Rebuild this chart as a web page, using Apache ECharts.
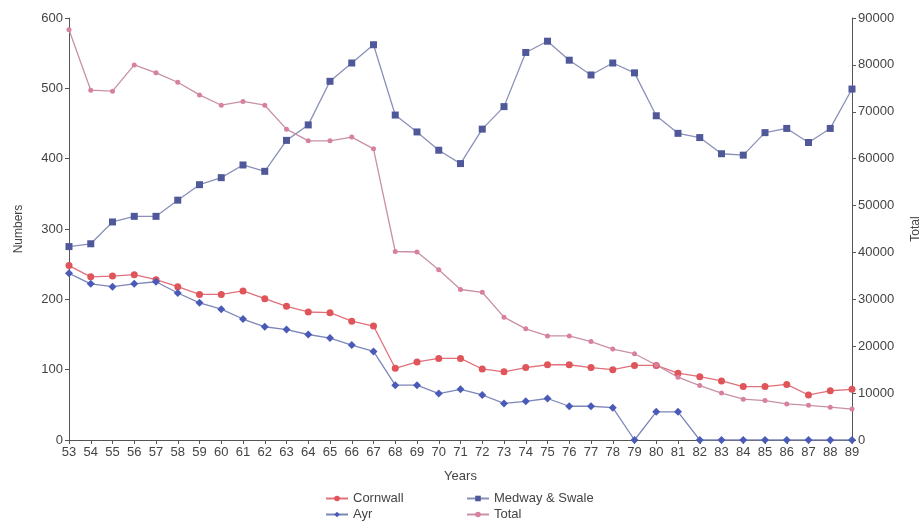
<!DOCTYPE html>
<html><head><meta charset="utf-8">
<script src="https://cdn.jsdelivr.net/npm/echarts@6/dist/echarts.min.js"></script>
<style>html,body{margin:0;padding:0;background:#fff}#c{width:919px;height:525px}</style>
</head><body><div id="c"></div>
<script>
const years = ['53','54','55','56','57','58','59','60','61','62','63','64','65','66','67','68','69','70','71','72','73','74','75','76','77','78','79','80','81','82','83','84','85','86','87','88','89'];
const cornwall = [248,232,233,235,228,218,207,207,212,201,190,182,181,169,162,102,111,116,116,101,97,103,107,107,103,100,106,106,95,90,84,76,76,79,64,70,72];
const medway = [275,279,310,318,318,341,363,373,391,382,426,448,510,536,562,462,438,412,393,442,474,551,567,540,519,536,522,461,436,430,407,405,437,443,423,443,499];
const ayr = [237,222,218,222,225,209,195,186,172,161,157,150,145,135,126,78,78,66,72,64,52,55,59,48,48,46,0,40,40,0,0,0,0,0,0,0,0];
const total = [87500,74600,74400,80000,78300,76300,73600,71400,72200,71400,66300,63800,63800,64600,62100,40200,40100,36300,32100,31500,26200,23700,22200,22200,21000,19400,18400,16000,13400,11600,10000,8700,8400,7700,7400,7000,6600];

const chart = echarts.init(document.getElementById('c'));
const txt = {color:'#444', fontFamily:'Liberation Sans, Arial, sans-serif', fontSize:12};
const legTxt = Object.assign({},txt,{fontSize:13});
const axisLine = {show:true, lineStyle:{color:'#555', width:1}};
function leg(name, left, top){
  return {data:[name], orient:'horizontal', left:left, top:top, itemGap:0, itemWidth:22, itemHeight:7, padding:0, textStyle:legTxt};
}
chart.setOption({
  animation:false,
  backgroundColor:'#fff',
  grid:{left:69, right:67, top:18, bottom:85, containLabel:false, outerBoundsMode:'none'},
  legend:[
    leg('Cornwall', 325, 492),
    leg('Ayr', 325, 508),
    leg('Medway & Swale', 466, 492),
    leg('Total', 466, 508)
  ],
  xAxis:{type:'category', data:years, boundaryGap:false, name:'Years', nameLocation:'middle', nameGap:30,
    nameTextStyle:legTxt,
    axisLine:axisLine, axisTick:{show:true, alignWithLabel:true, length:4, lineStyle:{color:'#555'}},
    axisLabel:Object.assign({},txt,{fontSize:13, margin:6, interval:0}), splitLine:{show:false}},
  yAxis:[
    {type:'value', min:0, max:600, interval:100, name:'Numbers', nameLocation:'middle', nameGap:44, nameRotate:90,
     nameTextStyle:txt, axisLine:axisLine, axisTick:{show:true, length:4, lineStyle:{color:'#555'}},
     axisLabel:Object.assign({},txt,{fontSize:13, margin:6, formatter:v=>String(v)}), splitLine:{show:false}},
    {type:'value', min:0, max:90000, interval:10000, name:'Total', nameLocation:'middle', nameGap:58, nameRotate:90,
     nameTextStyle:txt, position:'right', axisLine:axisLine, axisTick:{show:true, length:4, lineStyle:{color:'#555'}},
     axisLabel:Object.assign({},txt,{fontSize:13, margin:6, formatter:v=>String(v)}), splitLine:{show:false}}
  ],
  series:[
    {name:'Cornwall', type:'line', yAxisIndex:0, data:cornwall, symbol:'circle', symbolSize:7,
     itemStyle:{color:'#e0555a'}, lineStyle:{color:'#e0707a', width:1.3}},
    {name:'Ayr', type:'line', yAxisIndex:0, data:ayr, symbol:'diamond', symbolSize:8,
     itemStyle:{color:'#4a5ab8'}, lineStyle:{color:'#7d86b8', width:1.3}},
    {name:'Medway & Swale', type:'line', yAxisIndex:0, data:medway, symbol:'rect', symbolSize:7,
     itemStyle:{color:'#4f5898'}, lineStyle:{color:'#8a90b8', width:1.3}},
    {name:'Total', type:'line', yAxisIndex:1, data:total, symbol:'circle', symbolSize:5,
     itemStyle:{color:'#d880a0'}, lineStyle:{color:'#c890a8', width:1.3}}
  ]
});
</script></body></html>
